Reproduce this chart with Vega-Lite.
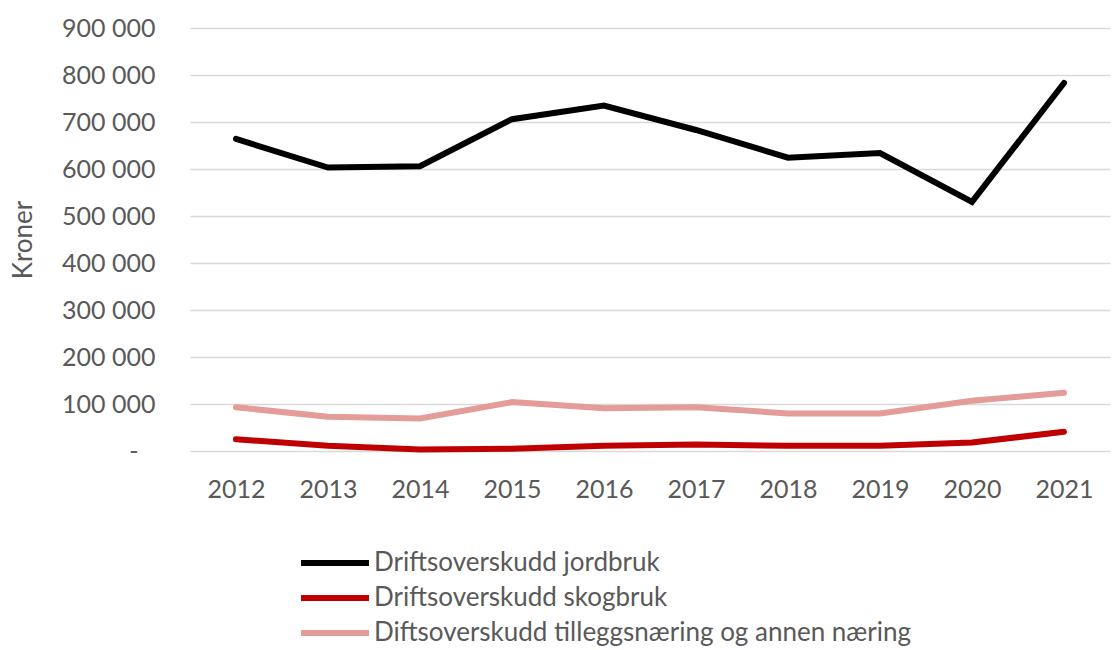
{
  "$schema": "https://vega.github.io/schema/vega-lite/v6.json",
  "width": 920,
  "height": 423,
  "autosize": {"type": "none"},
  "padding": {"left": 190, "top": 28, "right": 2, "bottom": 199},
  "background": "white",
  "config": {"view": {"stroke": null}, "font": "Lato"},
  "data": {"values": [
    {"year": "2012", "series": "Driftsoverskudd jordbruk", "value": 664000},
    {"year": "2013", "series": "Driftsoverskudd jordbruk", "value": 603000},
    {"year": "2014", "series": "Driftsoverskudd jordbruk", "value": 606000},
    {"year": "2015", "series": "Driftsoverskudd jordbruk", "value": 706000},
    {"year": "2016", "series": "Driftsoverskudd jordbruk", "value": 735000},
    {"year": "2017", "series": "Driftsoverskudd jordbruk", "value": 683000},
    {"year": "2018", "series": "Driftsoverskudd jordbruk", "value": 624000},
    {"year": "2019", "series": "Driftsoverskudd jordbruk", "value": 634000},
    {"year": "2020", "series": "Driftsoverskudd jordbruk", "value": 530000},
    {"year": "2021", "series": "Driftsoverskudd jordbruk", "value": 783000},
    {"year": "2012", "series": "Driftsoverskudd skogbruk", "value": 25000},
    {"year": "2013", "series": "Driftsoverskudd skogbruk", "value": 11000},
    {"year": "2014", "series": "Driftsoverskudd skogbruk", "value": 3000},
    {"year": "2015", "series": "Driftsoverskudd skogbruk", "value": 5000},
    {"year": "2016", "series": "Driftsoverskudd skogbruk", "value": 11000},
    {"year": "2017", "series": "Driftsoverskudd skogbruk", "value": 14000},
    {"year": "2018", "series": "Driftsoverskudd skogbruk", "value": 11000},
    {"year": "2019", "series": "Driftsoverskudd skogbruk", "value": 11000},
    {"year": "2020", "series": "Driftsoverskudd skogbruk", "value": 18000},
    {"year": "2021", "series": "Driftsoverskudd skogbruk", "value": 41000},
    {"year": "2012", "series": "Diftsoverskudd tilleggsnæring og annen næring", "value": 93000},
    {"year": "2013", "series": "Diftsoverskudd tilleggsnæring og annen næring", "value": 73000},
    {"year": "2014", "series": "Diftsoverskudd tilleggsnæring og annen næring", "value": 69000},
    {"year": "2015", "series": "Diftsoverskudd tilleggsnæring og annen næring", "value": 104000},
    {"year": "2016", "series": "Diftsoverskudd tilleggsnæring og annen næring", "value": 91000},
    {"year": "2017", "series": "Diftsoverskudd tilleggsnæring og annen næring", "value": 93000},
    {"year": "2018", "series": "Diftsoverskudd tilleggsnæring og annen næring", "value": 80000},
    {"year": "2019", "series": "Diftsoverskudd tilleggsnæring og annen næring", "value": 80000},
    {"year": "2020", "series": "Diftsoverskudd tilleggsnæring og annen næring", "value": 107000},
    {"year": "2021", "series": "Diftsoverskudd tilleggsnæring og annen næring", "value": 124000}
  ]},
  "mark": {"type": "line", "strokeWidth": 6, "strokeCap": "round", "strokeJoin": "miter"},
  "encoding": {
    "x": {
      "field": "year", "type": "ordinal",
      "scale": {"type": "point", "padding": 0.5},
      "axis": {
        "title": null, "domain": false, "ticks": false, "labelAngle": 0,
        "labelFontSize": 25, "labelColor": "#595959", "labelPadding": 26, "labelFont": "Lato"
      }
    },
    "y": {
      "field": "value", "type": "quantitative",
      "scale": {"domain": [0, 900000], "nice": false},
      "axis": {
        "values": [0, 100000, 200000, 300000, 400000, 500000, 600000, 700000, 800000, 900000],
        "labelExpr": "datum.value == 0 ? '-' : format(datum.value / 1000, 'd') + ' 000'",
        "title": "Kroner", "titleFontSize": 26, "titleFontWeight": "normal", "titleColor": "#595959",
        "titleX": -154, "titleFont": "Lato",
        "domain": false, "ticks": false,
        "labelPadding": {"condition": {"test": "datum.value == 0", "value": 52}, "value": 35},
        "labelFontSize": 25, "labelColor": "#595959", "labelFont": "Lato",
        "gridColor": "#d9d9d9", "gridWidth": 1.5
      }
    },
    "color": {
      "field": "series", "type": "nominal",
      "scale": {
        "domain": ["Driftsoverskudd jordbruk", "Driftsoverskudd skogbruk", "Diftsoverskudd tilleggsnæring og annen næring"],
        "range": ["#000000", "#c00000", "#e39c98"]
      },
      "legend": {
        "title": null, "orient": "none", "legendX": 108, "legendY": 522,
        "direction": "vertical",
        "symbolType": "M-1,0H5.8", "symbolStrokeWidth": 6, "symbolSize": 400,
        "labelFontSize": 26, "labelColor": "#595959", "labelFont": "Lato",
        "labelLimit": 900, "rowPadding": 9, "labelOffset": 50
      }
    }
  }
}
